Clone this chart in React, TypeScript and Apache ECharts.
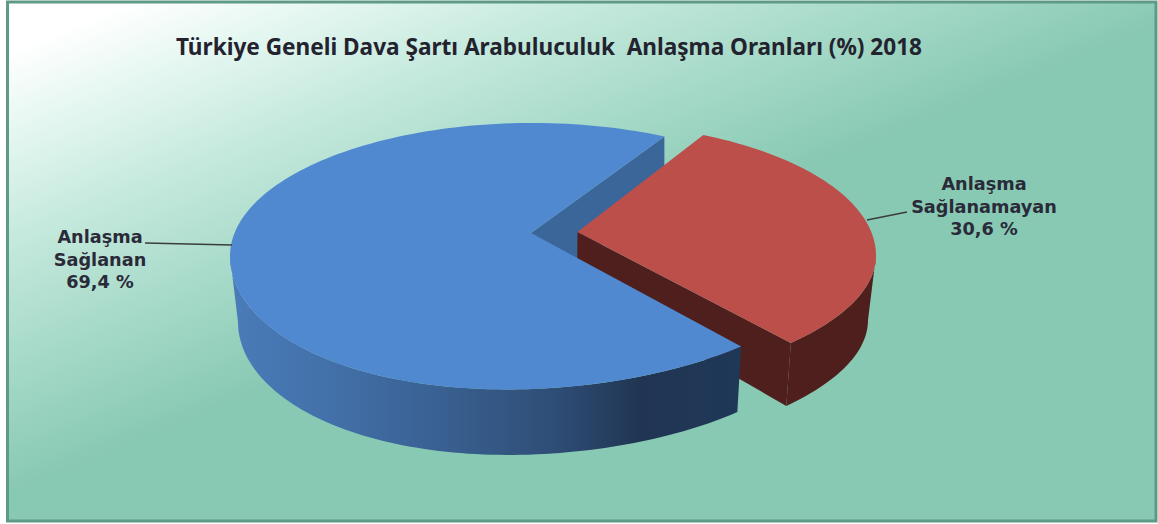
import React, { useEffect, useRef } from "react";
import * as echarts from "echarts";

const TITLE = "Türkiye Geneli Dava Şartı Arabuluculuk  Anlaşma Oranları (%) 2018";
const sliceNames = ["Anlaşma\nSağlanan", "Anlaşma\nSağlanamayan"];
const sliceValues = [69.4, 30.6];
const sliceLabels = ["69,4 %", "30,6 %"];

const WIDTH = 1158;
const HEIGHT = 524;
const FONT = '"DejaVu Sans", Verdana, sans-serif';
const TITLE_FONT = '"Noto Sans", Tahoma, sans-serif';

type Pt = [number, number];
const SKEW = -11;

// geometry of each flattened slice: the ellipse of its top, the ellipse of its foot, its apex
const GEO = [
  {
    cx: 532, cy: 256, rx: 302, ry: 133, bcx: 533, bcy: 322, brx: 295, bry: 132.5,
    apex: [531, 233] as Pt, footApex: [531, 296] as Pt, start: -64,
  },
  {
    cx: 581, cy: 255.5, rx: 295, ry: 132.4, bcx: 585, bcy: 320, brx: 283, bry: 130,
    apex: [577.5, 232] as Pt, footApex: [577, 286] as Pt, start: -65.5,
  },
];

const LABELS = [
  { x: 100, y: 237, line: [[145, 243], [232, 245]] as Pt[] },
  { x: 984, y: 184, line: [[867, 220], [907, 212]] as Pt[] },
];

const rad = (d: number) => (d * Math.PI) / 180;

function arc(cx: number, cy: number, rx: number, ry: number, from: number, to: number): Pt[] {
  const n = Math.max(2, Math.ceil(Math.abs(to - from) / 1.5));
  const pts: Pt[] = [];
  for (let i = 0; i <= n; i++) {
    const a = rad(from + ((to - from) * i) / n);
    const s = Math.sin(a);
    const c = Math.cos(a);
    pts.push([cx + rx * c, cy + ry * s + SKEW * c * Math.max(s, 0)]);
  }
  return pts;
}

const blueWall = new echarts.graphic.LinearGradient(0, 0, 1, 0, [
  { offset: 0, color: "#4a7cb9" },
  { offset: 0.2, color: "#4270a8" },
  { offset: 0.44, color: "#385e8e" },
  { offset: 0.64, color: "#2e4d75" },
  { offset: 0.8, color: "#213553" },
  { offset: 1, color: "#1f3858" },
]);

const renderSlice = (params: any, api: any) => {
  const i = params.dataIndex as number;
  const share = (api.value(0) as number) / sliceValues.reduce((a, b) => a + b, 0);
  const g = GEO[i];
  const sweep = share * 360;
  const children: any[] = [];
  if (i === 0) {
    const end = g.start - sweep;
    const rim = arc(g.cx, g.cy, g.rx, g.ry, g.start, end);
    const s0 = rim[0];
    const wallTo = end + 360;
    // cut face seen through the gap
    children.push({
      type: "polygon", z2: 1,
      shape: { points: [g.apex, s0, [s0[0], s0[1] + 62], g.footApex] },
      style: { fill: "#3b6699" },
    });
    // outer wall
    const top = arc(g.cx, g.cy, g.rx, g.ry, wallTo, 180);
    const bot = arc(g.bcx, g.bcy, g.brx, g.bry, 180, wallTo);
    children.push({
      type: "polygon", z2: 5,
      shape: { points: [...top, ...bot] },
      style: { fill: blueWall },
    });
    // top
    children.push({
      type: "polygon", z2: 6,
      shape: { points: [g.apex, ...rim] },
      style: { fill: "#5189d1" },
    });
  } else {
    const end = g.start + sweep;
    const rim = arc(g.cx, g.cy, g.rx, g.ry, g.start, end);
    const topWall = arc(g.cx, g.cy, g.rx, g.ry, 0, end);
    const botWall = arc(g.bcx, g.bcy, g.brx, g.bry, end, 0);
    children.push({
      type: "polygon", z2: 2,
      shape: { points: [...topWall, ...botWall] },
      style: { fill: "#4e1f1c" },
    });
    const e = rim[rim.length - 1];
    const eb = botWall[0];
    children.push({
      type: "polygon", z2: 2,
      shape: { points: [g.apex, e, eb, g.footApex] },
      style: { fill: "#4e1f1c" },
    });
    children.push({
      type: "polygon", z2: 3,
      shape: { points: [g.apex, ...rim] },
      style: { fill: "#bd4f4b" },
    });
  }
  const lab = LABELS[i];
  children.push({
    type: "polyline", z2: 7,
    shape: { points: lab.line },
    style: { stroke: "#3c3c3c", lineWidth: 1.6, fill: "none" },
  });
  const text = `${sliceNames[i]}\n${sliceLabels[i]}`;
  children.push({
    type: "text", z2: 8,
    x: lab.x, y: lab.y - 11,
    style: {
      text, fill: "#2a2a38",
      fontFamily: FONT, fontWeight: "bold", fontSize: 17.7,
      align: "center", verticalAlign: "top", lineHeight: 22.5,
    },
  });
  return { type: "group", children };
};

export default function App() {
  const ref = useRef<HTMLDivElement>(null);
  useEffect(() => {
    document.body.style.margin = "0";
    const chart = echarts.init(ref.current!, undefined, { renderer: "svg" });
    chart.setOption({
      animation: false,
      backgroundColor: "#ffffff",
      title: {
        text: TITLE,
        left: 544, top: 30, textAlign: "center",
        textStyle: { fontFamily: TITLE_FONT, fontWeight: "bold", fontSize: 22.6, color: "#23232f" },
      },
      graphic: [
        {
          type: "rect", z: -10, silent: true,
          shape: { x: 7.5, y: 2, width: 1148.5, height: 519 },
          style: {
            stroke: "#5f9a85", lineWidth: 3,
            fill: new echarts.graphic.LinearGradient(8, 3, 179, 423, [
              { offset: 0, color: "#ffffff" },
              { offset: 0.1, color: "#ffffff" },
              { offset: 0.3, color: "#e0f5ee" },
              { offset: 0.5, color: "#c3e8dc" },
              { offset: 0.8, color: "#9fd6c3" },
              { offset: 1, color: "#88c9b4" },
            ], true),
          },
        },
      ],
      series: [
        {
          type: "custom",
          coordinateSystem: "none",
          renderItem: renderSlice,
          data: sliceValues.map((v, i) => ({ name: sliceNames[i], value: [v] })),
          silent: true,
          z: 2,
        },
      ],
    });
    return () => chart.dispose();
  }, []);
  return <div ref={ref} style={{ width: WIDTH, height: HEIGHT }} />;
}
